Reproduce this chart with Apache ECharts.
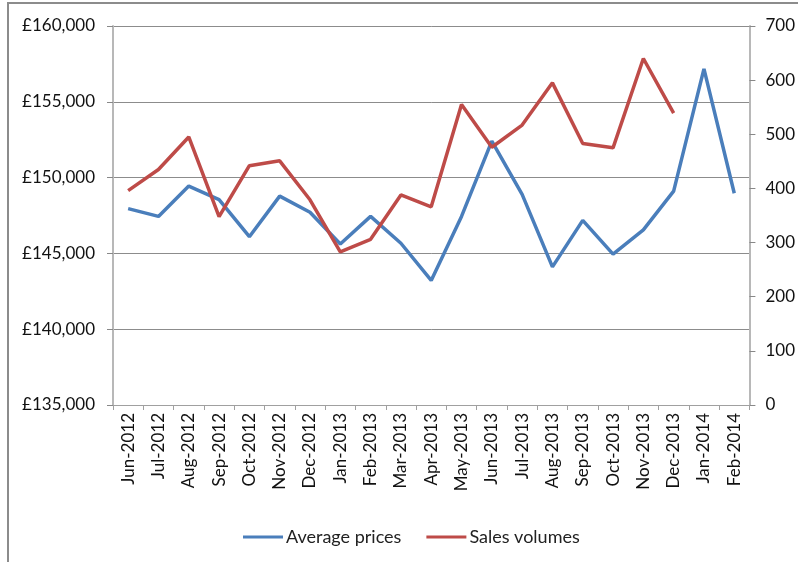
<!DOCTYPE html>
<html>
<head>
<meta charset="utf-8">
<script src="https://cdn.jsdelivr.net/npm/echarts@6/dist/echarts.min.js"></script>
<style>html,body{margin:0;padding:0;background:#fff;}#c{width:798px;height:562px;}</style>
</head>
<body>
<div id="c"></div>
<script>
const categories = ['Jun-2012','Jul-2012','Aug-2012','Sep-2012','Oct-2012','Nov-2012','Dec-2012','Jan-2013','Feb-2013','Mar-2013','Apr-2013','May-2013','Jun-2013','Jul-2013','Aug-2013','Sep-2013','Oct-2013','Nov-2013','Dec-2013','Jan-2014','Feb-2014'];
const averagePrices = [147950,147440,149440,148550,146100,148780,147710,145620,147440,145670,143220,147440,152400,148890,144110,147180,144950,146550,149110,157170,148970];
const salesVolumes = [396,435,495,348,442,451,379,283,306,388,366,555,476,517,595,483,475,640,539,null,null];
const leftTicks = [135000,140000,145000,150000,155000,160000];
const rightTicks = [0,100,200,300,400,500,600,700];

const font = 'Lato, "Open Sans", sans-serif';
const chart = echarts.init(document.getElementById('c'), null, {renderer:'canvas'});
chart.setOption({
  animation:false,
  backgroundColor:'#fff',
  graphic:[{type:'polyline',shape:{points:[[8,562],[8,3],[798,3]]},style:{stroke:'#8c8c8c',lineWidth:2,fill:null}}],
  grid:{left:113,right:46,top:26,bottom:157,containLabel:false},
  legend:{
    top:523,left:238,itemWidth:40,itemHeight:3,itemGap:25,
    icon:'rect',
    textStyle:{fontFamily:font,fontSize:18,color:'#222',padding:[0,0,0,-2]},
    data:['Average prices','Sales volumes']
  },
  xAxis:{
    type:'category',data:categories,boundaryGap:true,
    axisLine:{lineStyle:{color:'#a0a0a0',width:1}},
    axisTick:{show:true,inside:false,length:5,alignWithLabel:false,lineStyle:{color:'#a0a0a0'}},
    axisLabel:{rotate:90,interval:0,fontFamily:font,fontSize:17,color:'#111',margin:8}
  },
  yAxis:[{
    type:'value',min:135000,max:160000,interval:5000,position:'left',
    axisLine:{show:true,lineStyle:{color:'#b8b8b8',width:2}},
    axisTick:{show:true,length:6,lineStyle:{color:'#888'}},
    splitLine:{show:true,lineStyle:{color:'#8c8c8c',width:1}},
    axisLabel:{fontFamily:font,fontSize:17,color:'#111',margin:18,
      formatter:v=>'£'+v.toLocaleString('en-GB')}
  },{
    type:'value',min:0,max:700,interval:100,position:'right',
    axisLine:{show:true,lineStyle:{color:'#b8b8b8',width:2}},
    axisTick:{show:true,length:6,lineStyle:{color:'#888'}},
    splitLine:{show:false},
    axisLabel:{fontFamily:font,fontSize:17,color:'#111',margin:16}
  }],
  series:[{
    name:'Average prices',type:'line',yAxisIndex:0,data:averagePrices,
    symbol:'none',lineStyle:{color:'#4A7EBB',width:3.5},itemStyle:{color:'#4A7EBB'}
  },{
    name:'Sales volumes',type:'line',yAxisIndex:1,data:salesVolumes,
    symbol:'none',lineStyle:{color:'#BE4B48',width:3.5},itemStyle:{color:'#BE4B48'}
  }]
});
</script>
</body>
</html>
